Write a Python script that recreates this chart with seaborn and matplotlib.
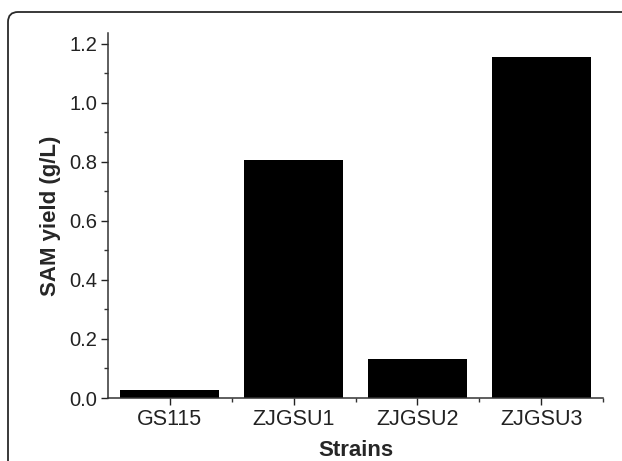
import matplotlib
matplotlib.use("Agg")
import matplotlib.pyplot as plt
from matplotlib.patches import FancyBboxPatch
from matplotlib.ticker import MultipleLocator, FixedLocator
import seaborn as sns
import pandas as pd

# data
strains = ["GS115", "ZJGSU1", "ZJGSU2", "ZJGSU3"]
sam_yield = [0.028, 0.805, 0.133, 1.154]

df = pd.DataFrame({"Strains": strains, "yield": sam_yield})

sns.set_style("ticks")
plt.rcParams["font.family"] = ["Liberation Sans", "DejaVu Sans"]

fig = plt.figure(figsize=(6.22, 4.61), dpi=100)
ax = fig.add_axes([108 / 622, 1 - 398 / 461, 495 / 622, 365 / 461])

sns.barplot(
    data=df,
    x="Strains",
    y="yield",
    color="black",
    saturation=1,
    width=0.8,
    edgecolor="none",
    ax=ax
)

ax.set_xlim(-0.5, 3.5)
ax.set_ylim(0, 1.237)

ax.yaxis.set_major_locator(MultipleLocator(0.2))
ax.yaxis.set_minor_locator(MultipleLocator(0.1))
ax.xaxis.set_minor_locator(FixedLocator([0.5, 1.5, 2.5, 3.5]))
ax.yaxis.set_major_formatter(matplotlib.ticker.FormatStrFormatter("%.1f"))

spine_col = "#333333"
for side in ["top", "right"]:
    ax.spines[side].set_visible(False)
for side in ["left", "bottom"]:
    ax.spines[side].set_color(spine_col)
    ax.spines[side].set_linewidth(1.1)

ax.tick_params(axis="both", which="major", direction="out", length=5,
               width=1.0, color=spine_col, pad=3)
ax.tick_params(axis="both", which="minor", direction="out", length=3,
               width=1.0, color=spine_col)
ax.tick_params(axis="y", labelsize=14.5, colors="#222222")
ax.tick_params(axis="x", labelsize=15.5, colors="#222222")

ax.set_xlabel("Strains", fontsize=16, fontweight="bold", labelpad=7)
ax.set_ylabel("SAM yield (g/L)", fontsize=16, fontweight="bold", labelpad=6)

# rounded frame around the panel
frame = FancyBboxPatch(
    (8, -30), 650, 461 - 12 + 30,
    boxstyle="round,pad=0,rounding_size=10",
    transform=None,
    facecolor="none",
    edgecolor="#2a2a2a",
    linewidth=1.3
)
fig.patches.append(frame)

fig.savefig("out.png", dpi=100)
